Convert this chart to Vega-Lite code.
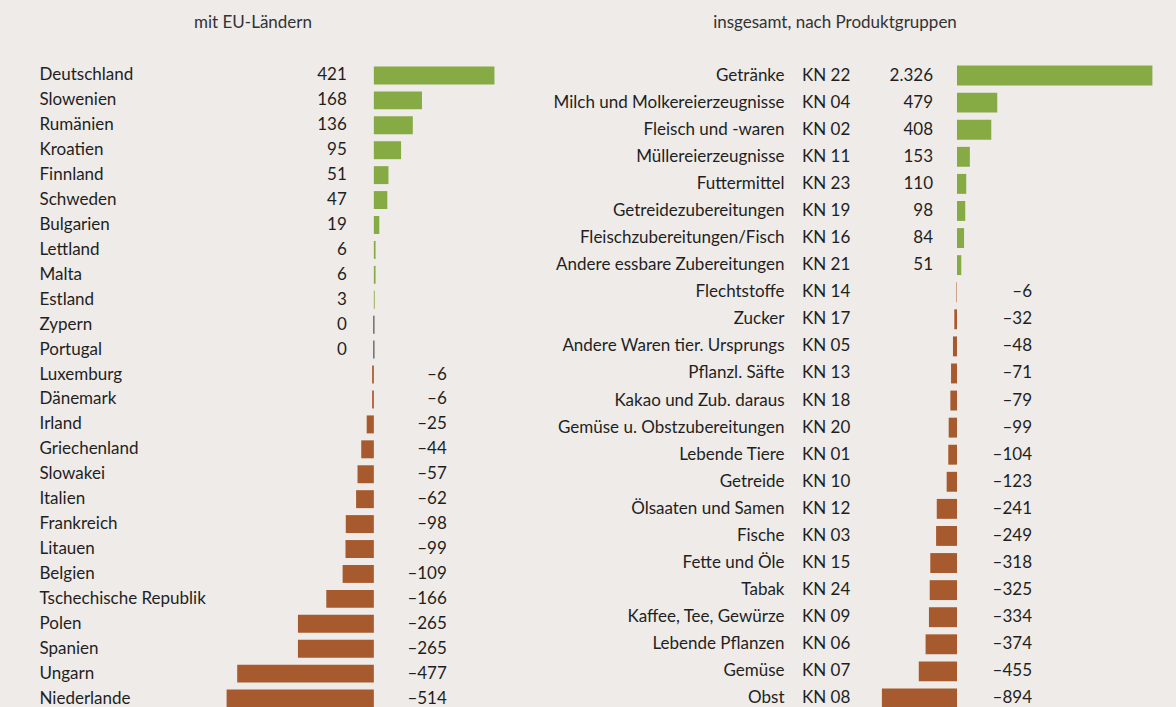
{
  "$schema": "https://vega.github.io/schema/vega-lite/v6.json",
  "background": "#EEEBE8",
  "padding": {"top": 14, "left": 0, "right": 0, "bottom": 0},
  "spacing": 0,
  "config": {
    "view": {"stroke": null},
    "font": "Lato",
    "locale": {"number": {"decimal": ",", "thousands": ".", "grouping": [3], "currency": ["", " €"], "minus": "–"}},
    "title": {"fontSize": 17, "fontWeight": "normal", "color": "#333333", "offset": 20, "font": "Lato"},
    "text": {"font": "Lato", "fontSize": 17, "color": "#1f1f1f"}
  },
  "hconcat": [
    {
      "width": 540,
      "height": 670,
      "title": {"text": "mit EU-Ländern", "dx": -17},
      "data": {"values": [
        {"land": "Deutschland", "wert": 421},
        {"land": "Slowenien", "wert": 168},
        {"land": "Rumänien", "wert": 136},
        {"land": "Kroatien", "wert": 95},
        {"land": "Finnland", "wert": 51},
        {"land": "Schweden", "wert": 47},
        {"land": "Bulgarien", "wert": 19},
        {"land": "Lettland", "wert": 6},
        {"land": "Malta", "wert": 6},
        {"land": "Estland", "wert": 3},
        {"land": "Zypern", "wert": 0},
        {"land": "Portugal", "wert": 0},
        {"land": "Luxemburg", "wert": -6},
        {"land": "Dänemark", "wert": -6},
        {"land": "Irland", "wert": -25},
        {"land": "Griechenland", "wert": -44},
        {"land": "Slowakei", "wert": -57},
        {"land": "Italien", "wert": -62},
        {"land": "Frankreich", "wert": -98},
        {"land": "Litauen", "wert": -99},
        {"land": "Belgien", "wert": -109},
        {"land": "Tschechische Republik", "wert": -166},
        {"land": "Polen", "wert": -265},
        {"land": "Spanien", "wert": -265},
        {"land": "Ungarn", "wert": -477},
        {"land": "Niederlande", "wert": -514}
      ]},
      "encoding": {
        "y": {
          "field": "land", "type": "nominal", "sort": null,
          "scale": {"paddingInner": 0, "paddingOuter": 0.44},
          "axis": {"title": null, "domain": false, "ticks": false, "tickSize": 0, "labelAlign": "left", "labelPadding": -39, "labelFontSize": 17, "labelFont": "Lato", "labelColor": "#1f1f1f", "labelLimit": 0}
        }
      },
      "layer": [
        {
          "mark": {"type": "bar", "height": {"band": 0.72}},
          "encoding": {
            "x": {"field": "wert", "type": "quantitative", "scale": {"domain": [-1305, 580], "nice": false, "zero": false}, "axis": null},
            "color": {"condition": {"test": "datum.wert >= 0", "value": "#86AB44"}, "value": "#A85A2F"}
          }
        },
        {
          "transform": [{"filter": "datum.wert == 0"}],
          "mark": {"type": "tick", "thickness": 1.3, "size": 18, "color": "#1f1f1f"},
          "encoding": {"x": {"field": "wert", "type": "quantitative"}}
        },
        {
          "transform": [{"filter": "datum.wert >= 0"}],
          "mark": {"type": "text", "align": "right", "dx": -27},
          "encoding": {"x": {"datum": 0}, "text": {"field": "wert", "type": "quantitative", "format": ","}}
        },
        {
          "transform": [{"filter": "datum.wert < 0"}],
          "mark": {"type": "text", "align": "right", "dx": 73},
          "encoding": {"x": {"datum": 0}, "text": {"field": "wert", "type": "quantitative", "format": ","}}
        }
      ]
    },
    {
      "width": 636,
      "height": 670,
      "title": {"text": "insgesamt, nach Produktgruppen", "dx": -23},
      "data": {"values": [
        {"gruppe": "Getränke", "kn": "KN 22", "wert": 2326},
        {"gruppe": "Milch und Molkereierzeugnisse", "kn": "KN 04", "wert": 479},
        {"gruppe": "Fleisch und -waren", "kn": "KN 02", "wert": 408},
        {"gruppe": "Müllereierzeugnisse", "kn": "KN 11", "wert": 153},
        {"gruppe": "Futtermittel", "kn": "KN 23", "wert": 110},
        {"gruppe": "Getreidezubereitungen", "kn": "KN 19", "wert": 98},
        {"gruppe": "Fleischzubereitungen/Fisch", "kn": "KN 16", "wert": 84},
        {"gruppe": "Andere essbare Zubereitungen", "kn": "KN 21", "wert": 51},
        {"gruppe": "Flechtstoffe", "kn": "KN 14", "wert": -6},
        {"gruppe": "Zucker", "kn": "KN 17", "wert": -32},
        {"gruppe": "Andere Waren tier. Ursprungs", "kn": "KN 05", "wert": -48},
        {"gruppe": "Pflanzl. Säfte", "kn": "KN 13", "wert": -71},
        {"gruppe": "Kakao und Zub. daraus", "kn": "KN 18", "wert": -79},
        {"gruppe": "Gemüse u. Obstzubereitungen", "kn": "KN 20", "wert": -99},
        {"gruppe": "Lebende Tiere", "kn": "KN 01", "wert": -104},
        {"gruppe": "Getreide", "kn": "KN 10", "wert": -123},
        {"gruppe": "Ölsaaten und Samen", "kn": "KN 12", "wert": -241},
        {"gruppe": "Fische", "kn": "KN 03", "wert": -249},
        {"gruppe": "Fette und Öle", "kn": "KN 15", "wert": -318},
        {"gruppe": "Tabak", "kn": "KN 24", "wert": -325},
        {"gruppe": "Kaffee, Tee, Gewürze", "kn": "KN 09", "wert": -334},
        {"gruppe": "Lebende Pflanzen", "kn": "KN 06", "wert": -374},
        {"gruppe": "Gemüse", "kn": "KN 07", "wert": -455},
        {"gruppe": "Obst", "kn": "KN 08", "wert": -894}
      ]},
      "encoding": {
        "y": {
          "field": "gruppe", "type": "nominal", "sort": null,
          "scale": {"paddingInner": 0, "paddingOuter": 0.37},
          "axis": {"title": null, "domain": false, "ticks": false, "tickSize": 0, "labelAlign": "right", "labelPadding": -244, "labelFontSize": 17, "labelFont": "Lato", "labelColor": "#1f1f1f", "labelLimit": 0}
        }
      },
      "layer": [
        {
          "mark": {"type": "bar", "height": {"band": 0.735}},
          "encoding": {
            "x": {"field": "wert", "type": "quantitative", "scale": {"domain": [-4964, 2607], "nice": false, "zero": false}, "axis": null},
            "color": {"condition": {"test": "datum.wert >= 0", "value": "#86AB44"}, "value": "#A85A2F"}
          }
        },
        {
          "mark": {"type": "text", "align": "left", "dx": -155},
          "encoding": {"x": {"datum": 0}, "text": {"field": "kn", "type": "nominal"}}
        },
        {
          "transform": [{"filter": "datum.wert >= 0"}],
          "mark": {"type": "text", "align": "right", "dx": -24},
          "encoding": {"x": {"datum": 0}, "text": {"field": "wert", "type": "quantitative", "format": ","}}
        },
        {
          "transform": [{"filter": "datum.wert < 0"}],
          "mark": {"type": "text", "align": "right", "dx": 75},
          "encoding": {"x": {"datum": 0}, "text": {"field": "wert", "type": "quantitative", "format": ","}}
        }
      ]
    }
  ]
}
